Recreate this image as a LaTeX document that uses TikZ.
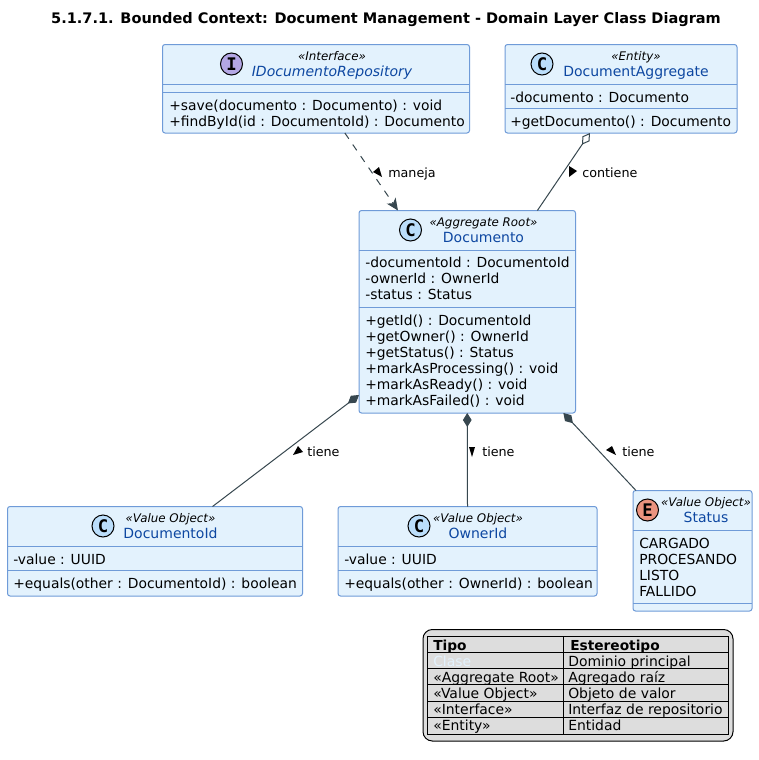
\documentclass[tikz,border=0pt]{standalone}
\usepackage{fontspec}
\setmainfont{DejaVu Sans}
\usetikzlibrary{arrows.meta,calc}
\definecolor{boxfill}{HTML}{E3F2FD}
\definecolor{boxline}{HTML}{6F9BD8}
\definecolor{namecol}{HTML}{0D47A1}
\definecolor{linkcol}{HTML}{37474F}
\definecolor{iconC}{HTML}{BBDEFB}
\definecolor{iconI}{HTML}{B4A7E5}
\definecolor{iconE}{HTML}{EB937F}
\definecolor{legfill}{HTML}{DDDDDD}
\tikzset{
  x=0.75pt,y=-0.75pt,
  umlbox/.style={draw=boxline,fill=boxfill,line width=0.75pt,rounded corners=1.9pt,inner sep=0pt,outer sep=0pt},
  divider/.style={draw=boxline,line width=0.75pt},
  memb/.style={anchor=base west,inner sep=0pt,font=\fontsize{10.4}{12}\selectfont,text=black},
  stereo/.style={anchor=base,inner sep=0pt,font=\fontsize{8.9}{11}\selectfont\itshape,text=black},
  nameb/.style={anchor=base,inner sep=0pt,font=\fontsize{10.5}{12}\selectfont,text=namecol},
  icon/.style={circle,draw=black,line width=0.75pt,minimum size=16.5pt,inner sep=0pt,font=\fontsize{13}{13}\selectfont\ttfamily\bfseries},
  link/.style={draw=linkcol,line width=0.75pt},
  lbl/.style={anchor=base west,inner sep=0pt,font=\fontsize{9.55}{12}\selectfont,text=black},
  ltext/.style={anchor=base west,inner sep=0pt,font=\fontsize{10.45}{12}\selectfont,text=black},
  lhead/.style={anchor=base west,inner sep=0pt,font=\fontsize{10.3}{12}\selectfont\bfseries,text=black},
  ltri/.style={fill=black,draw=none},
}
\setmonofont{DejaVu Sans Mono}
\newcommand{\ubox}[5]{\node[umlbox,minimum width=#4*0.75pt-#2*0.75pt,minimum height=#5*0.75pt-#3*0.75pt] (#1) at ({(#2+#4)/2},{(#3+#5)/2}) {};}
\begin{document}
\begin{tikzpicture}
\useasboundingbox (0,0) rectangle (758,760);
\fill[white] (0,0) rectangle (758,760);
\node[anchor=base,inner sep=0pt,font=\fontsize{10.9}{12}\selectfont\bfseries] (title) at (386,23) {5.1.7.1. Bounded Context: Document Management - Domain Layer Class Diagram};

% Boxes
\ubox{repo}{162.5}{44.5}{469.5}{133}
\draw[divider] (162.5,84.5) -- (469.5,84.5) (162.5,92.5) -- (469.5,92.5);
\node[icon,fill=iconI] (repoI) at (231.5,64) {I};
\node[stereo] (repoS) at (332,60) {«Interface»};
\node[nameb,font=\fontsize{10.5}{12}\selectfont\itshape] (repoN) at (332,76) {IDocumentoRepository};
\node[memb] (repo1) at (169,110) {+save(documento : Documento) : void};
\node[memb] (repo2) at (169,126) {+findById(id : DocumentoId) : Documento};

\ubox{agg}{505}{44.5}{737}{133}
\draw[divider] (505,84.5) -- (737,84.5) (505,108.5) -- (737,108.5);
\node[icon,fill=iconC] (aggI) at (542,64) {C};
\node[stereo] (aggS) at (636,60) {«Entity»};
\node[nameb] (aggN) at (636,76) {DocumentAggregate};
\node[memb] (agg1) at (510,102) {-documento : Documento};
\node[memb] (agg2) at (510,126) {+getDocumento() : Documento};

\ubox{doc}{359}{210.5}{575.5}{413}
\draw[divider] (359,250.5) -- (575.5,250.5) (359,307) -- (575.5,307);
\node[icon,fill=iconC] (docI) at (410.5,230) {C};
\node[stereo] (docS) at (483.5,226) {«Aggregate Root»};
\node[nameb] (docN) at (483.5,242) {Documento};
\node[memb] (doc1) at (365,267) {-documentoId : DocumentoId};
\node[memb] (doc2) at (365,283) {-ownerId : OwnerId};
\node[memb] (doc3) at (365,299) {-status : Status};
\node[memb] (doc4) at (365,325) {+getId() : DocumentoId};
\node[memb] (doc5) at (365,341) {+getOwner() : OwnerId};
\node[memb] (doc6) at (365,357) {+getStatus() : Status};
\node[memb] (doc7) at (365,373) {+markAsProcessing() : void};
\node[memb] (doc8) at (365,389) {+markAsReady() : void};
\node[memb] (doc9) at (365,405) {+markAsFailed() : void};

\ubox{did}{7.5}{506.5}{302.5}{596}
\draw[divider] (7.5,546.5) -- (302.5,546.5) (7.5,570.5) -- (302.5,570.5);
\node[icon,fill=iconC] (didI) at (103,526) {C};
\node[stereo] (didS) at (170.5,522) {«Value Object»};
\node[nameb] (didN) at (170.5,538) {DocumentoId};
\node[memb] (did1) at (13,564) {-value : UUID};
\node[memb] (did2) at (13,588) {+equals(other : DocumentoId) : boolean};

\ubox{oid}{338}{506.5}{597}{596}
\draw[divider] (338,546.5) -- (597,546.5) (338,570.5) -- (597,570.5);
\node[icon,fill=iconC] (oidI) at (419,526) {C};
\node[stereo] (oidS) at (478,522) {«Value Object»};
\node[nameb] (oidN) at (478,538) {OwnerId};
\node[memb] (oid1) at (344,564) {-value : UUID};
\node[memb] (oid2) at (344,588) {+equals(other : OwnerId) : boolean};

\ubox{sta}{633}{490.5}{752}{611}
\draw[divider] (633,530.5) -- (752,530.5) (633,603) -- (752,603);
\node[icon,fill=iconE] (staI) at (647.5,510) {E};
\node[stereo] (staS) at (706,506) {«Value Object»};
\node[nameb] (staN) at (706,522) {Status};
\node[memb] (sta1) at (639,548) {CARGADO};
\node[memb] (sta2) at (639,564) {PROCESANDO};
\node[memb] (sta3) at (639,580) {LISTO};
\node[memb] (sta4) at (639,596) {FALLIDO};

% Links
\draw[link,dash pattern=on 5.25pt off 5.25pt,-{Stealth[length=9pt,width=8pt,inset=2.5pt,fill=linkcol]}]
  ($(repo.south west)!0.594!(repo.south east)$) -- ($(doc.north west)!0.18!(doc.north east)$);
\draw[link,{Diamond[open,length=10.5pt,width=6.5pt,fill=white]}-]
  ($(agg.south west)!0.366!(agg.south east)$) -- ($(doc.north west)!0.824!(doc.north east)$);
\draw[link,{Diamond[length=10.5pt,width=6.5pt,fill=linkcol]}-]
  ($(doc.south west)!0.089!(doc.north west)$) -- ($(did.north west)!0.695!(did.north east)$);
\draw[link,{Diamond[length=10.5pt,width=6.5pt,fill=linkcol]}-]
  ($(doc.south west)!0.5!(doc.south east)$) -- ($(oid.north west)!0.5!(oid.north east)$);
\draw[link,{Diamond[length=10.5pt,width=6.5pt,fill=linkcol]}-]
  ($(doc.south west)!0.944!(doc.south east)$) -- ($(sta.north west)!0.025!(sta.north east)$);

% Link labels
\fill[ltri] (379,167) -- (382,177) -- (373,172) -- cycle;
\node[lbl] (l1) at (388,177) {maneja};
\fill[ltri] (569,166) -- (577,171) -- (569,177) -- cycle;
\node[lbl] (l2) at (582,177) {contiene};
\fill[ltri] (298,446) -- (303,452) -- (293,455) -- cycle;
\node[lbl] (l3) at (307,456) {tiene};
\fill[ltri] (469,447) -- (475,447) -- (472,457) -- cycle;
\node[lbl] (l4) at (482,456) {tiene};
\fill[ltri] (612,446) -- (616,455) -- (606,450) -- cycle;
\node[lbl] (l5) at (622,456) {tiene};

% Legend
\draw[black,fill=legfill,line width=0.75pt,rounded corners=7pt] (423,629.5) rectangle (733,741);
\draw[black,line width=0.75pt] (427,636) rectangle (728.5,734.5);
\draw[black,line width=0.75pt] (563,636) -- (563,734.5);
\foreach \yy in {652.5,668.5,684.5,701,717.5} \draw[black,line width=0.75pt] (427,\yy) -- (728.5,\yy);
\node[lhead] (t11) at (433,650) {Tipo};
\node[lhead] (t12) at (570,650) {Estereotipo};
\node[ltext,text=boxfill] (t21) at (433,666) {Clase};
\node[ltext] (t22) at (568,666) {Dominio principal};
\node[ltext] (t31) at (433,682) {«Aggregate Root»};
\node[ltext] (t32) at (568,682) {Agregado raíz};
\node[ltext] (t41) at (433,698) {«Value Object»};
\node[ltext] (t42) at (568,698) {Objeto de valor};
\node[ltext] (t51) at (433,714) {«Interface»};
\node[ltext] (t52) at (568,714) {Interfaz de repositorio};
\node[ltext] (t61) at (433,730) {«Entity»};
\node[ltext] (t62) at (568,730) {Entidad};
\end{tikzpicture}
\end{document}
